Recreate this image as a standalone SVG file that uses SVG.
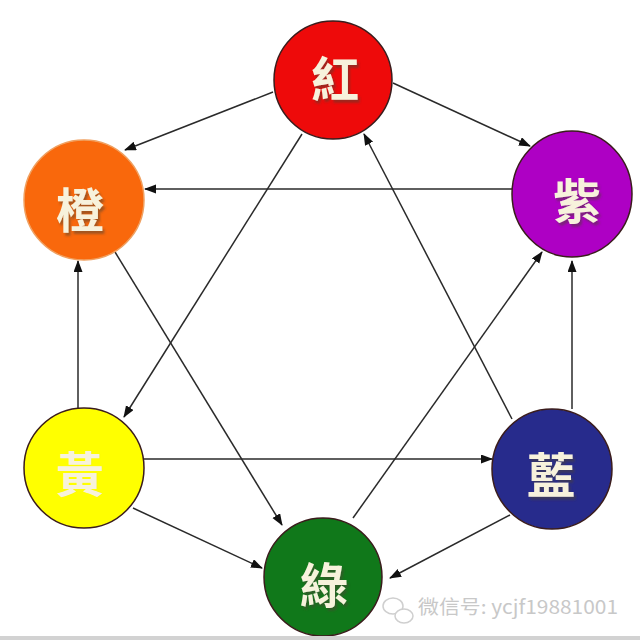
<svg xmlns="http://www.w3.org/2000/svg" width="640" height="640" viewBox="0 0 640 640">
<style>
.node{stroke:#3a1c1c;stroke-width:1.5}
.lbl{font-family:"Noto Sans CJK TC","Noto Sans CJK SC",sans-serif;font-weight:700;font-size:48px;fill:#f7f2dc;text-anchor:middle;dominant-baseline:central;filter:url(#sh)}
.edge{stroke:#2a2a2a;stroke-width:1.5;fill:none;marker-end:url(#arr)}
.wm{font-family:"Noto Sans CJK SC","Liberation Sans",sans-serif;font-size:19px;fill:#c8c8c8}
</style>
<defs>
<marker id="arr" markerWidth="12" markerHeight="10" refX="11" refY="4.5" orient="auto" markerUnits="userSpaceOnUse">
<path d="M0,0 L12,4.5 L0,9 z" fill="#111"/>
</marker>
<filter id="sh" x="-20%" y="-20%" width="150%" height="150%">
<feDropShadow dx="2" dy="3" stdDeviation="1" flood-color="#4a4030" flood-opacity="0.5"/>
</filter>
</defs>
<rect width="640" height="640" fill="#fff"/>
<g id="connectors">
<line class="edge" x1="273" y1="92" x2="125" y2="150"/>
<line class="edge" x1="393" y1="83" x2="530" y2="146"/>
<line class="edge" x1="512" y1="189" x2="145" y2="189"/>
<line class="edge" x1="302" y1="134" x2="124" y2="417"/>
<line class="edge" x1="512" y1="419" x2="364" y2="134"/>
<line class="edge" x1="115" y1="252" x2="282" y2="525"/>
<line class="edge" x1="78" y1="408" x2="78" y2="261"/>
<line class="edge" x1="353" y1="518" x2="542" y2="252"/>
<line class="edge" x1="572" y1="409" x2="572" y2="261"/>
<line class="edge" x1="143" y1="459" x2="492" y2="459"/>
<line class="edge" x1="133" y1="508" x2="262" y2="568"/>
<line class="edge" x1="510" y1="515" x2="390" y2="578"/>
</g>
<g id="red">
<circle class="node" cx="333" cy="80" r="59" fill="#ee0a0a"/>
<text class="lbl" x="335" y="76">紅</text>
</g>
<g id="purple">
<ellipse class="node" cx="572" cy="194" rx="60" ry="63" fill="#ae00c4"/>
<text class="lbl" x="577" y="198">紫</text>
</g>
<g id="blue">
<circle class="node" cx="552" cy="469" r="60" fill="#272b8c"/>
<text class="lbl" x="551" y="472">藍</text>
</g>
<g id="green">
<circle class="node" cx="323" cy="577" r="59" fill="#10781a"/>
<text class="lbl" x="324" y="582">綠</text>
</g>
<g id="yellow">
<circle class="node" cx="84" cy="468" r="60" fill="#ffff00"/>
<text class="lbl" x="80" y="471" style="filter:none">黃</text>
</g>
<g id="orange">
<circle class="node" cx="84" cy="200" r="60" fill="#f9680c" style="stroke:#f0a060"/>
<text class="lbl" x="80" y="207">橙</text>
</g>
<g id="watermark">
<ellipse cx="393" cy="606" rx="10" ry="8" fill="none" stroke="#cfcfcf" stroke-width="1.5"/>
<ellipse cx="404" cy="616" rx="9" ry="7" fill="#fff" stroke="#cfcfcf" stroke-width="1.5"/>
<text class="wm" x="418" y="614" textLength="200" lengthAdjust="spacingAndGlyphs">微信号: ycjf19881001</text>
</g>
<rect x="0" y="636" width="640" height="4" fill="#d2d2d2"/>
</svg>
